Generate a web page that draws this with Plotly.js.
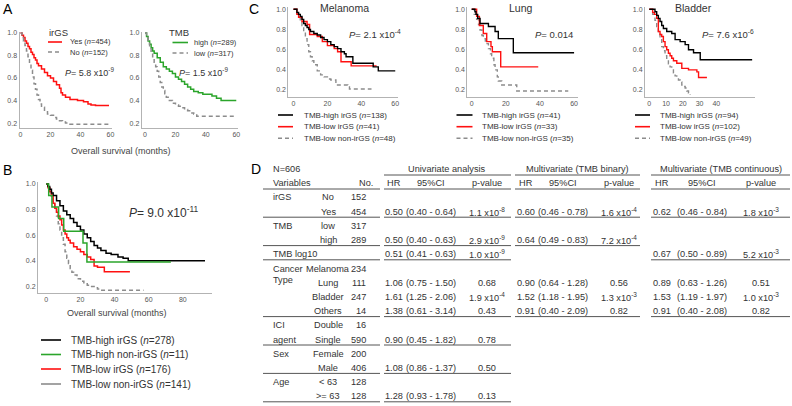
<!DOCTYPE html>
<html>
<head>
<meta charset="utf-8">
<script src="https://cdn.plot.ly/plotly-3.0.1.min.js"></script>
<style>html,body{margin:0;padding:0;background:#fff;}</style>
</head>
<body>
<div id="chart" style="width:792px;height:406px;"></div>
<script>
// ---- Panel A: irGS ----
let irgsYesT = [0, 1, 2, 3, 4, 5, 6, 7, 8, 9, 10, 11, 12, 14, 16, 18, 20, 22, 24, 26, 27, 28, 30, 33, 38, 42, 45, 47, 50, 59];
let irgsYesS = [1, 0.98, 0.96, 0.93, 0.91, 0.88, 0.86, 0.83, 0.81, 0.78, 0.76, 0.73, 0.71, 0.68, 0.65, 0.62, 0.60, 0.57, 0.54, 0.51, 0.47, 0.45, 0.43, 0.41, 0.40, 0.39, 0.37, 0.36, 0.355, 0.355];
let irgsNoT = [0, 1, 2, 3, 4, 5, 6, 7, 8, 9, 10, 11, 12, 13, 14, 16, 18, 20, 22, 24, 26, 28, 30, 33, 59];
let irgsNoS = [1, 0.97, 0.93, 0.89, 0.84, 0.79, 0.73, 0.67, 0.61, 0.55, 0.50, 0.45, 0.41, 0.37, 0.34, 0.30, 0.28, 0.27, 0.25, 0.235, 0.22, 0.21, 0.20, 0.19, 0.19];

// ---- Panel A: TMB ----
let tmbHighT = [0, 1, 2, 3, 4, 5, 6, 8, 10, 12, 14, 16, 18, 20, 22, 24, 26, 28, 30, 32, 35, 38, 44, 47, 50, 60];
let tmbHighS = [1, 0.97, 0.93, 0.90, 0.87, 0.84, 0.82, 0.78, 0.74, 0.70, 0.68, 0.66, 0.64, 0.61, 0.59, 0.57, 0.545, 0.52, 0.50, 0.48, 0.47, 0.455, 0.44, 0.42, 0.40, 0.40];
let tmbLowT = [0, 1, 2, 3, 4, 5, 6, 7, 8, 9, 10, 11, 12, 13, 14, 16, 18, 20, 22, 24, 26, 28, 30, 32, 34, 60];
let tmbLowS = [1, 0.96, 0.92, 0.88, 0.83, 0.78, 0.74, 0.70, 0.66, 0.61, 0.56, 0.52, 0.49, 0.46, 0.43, 0.40, 0.375, 0.36, 0.35, 0.335, 0.32, 0.31, 0.29, 0.28, 0.26, 0.255];

// ---- Panel B: combined groups ----
let bHiIrT = [0, 1, 2, 3, 4, 6, 8, 10, 12, 14, 16, 18, 20, 22, 24, 26, 28, 30, 32, 35, 38, 42, 45, 48, 93];
let bHiIrS = [1, 0.98, 0.96, 0.93, 0.91, 0.87, 0.83, 0.79, 0.76, 0.73, 0.70, 0.67, 0.64, 0.61, 0.58, 0.55, 0.52, 0.50, 0.48, 0.46, 0.45, 0.43, 0.42, 0.40, 0.40];
let bHiNonT = [0, 1.4, 3.3, 7.2, 10.2, 21.5, 23.8, 73];
let bHiNonS = [1, 0.91, 0.82, 0.73, 0.63, 0.54, 0.39, 0.39];
let bLoIrT = [0, 1, 2, 3, 4, 5, 6, 7, 8, 9, 10, 11, 12, 13, 14, 16, 18, 20, 22, 24, 26, 28, 30, 34, 49];
let bLoIrS = [1, 0.97, 0.94, 0.91, 0.85, 0.81, 0.78, 0.75, 0.72, 0.68, 0.64, 0.61, 0.58, 0.56, 0.54, 0.51, 0.49, 0.47, 0.45, 0.43, 0.41, 0.36, 0.35, 0.315, 0.315];
let bLoNonT = [0, 1, 2, 3, 4, 5, 6, 7, 8, 9, 10, 11, 12, 13, 14, 15, 16, 18, 20, 22, 24, 26, 28, 30, 32, 57];
let bLoNonS = [1, 0.97, 0.93, 0.89, 0.85, 0.80, 0.75, 0.69, 0.64, 0.58, 0.53, 0.47, 0.42, 0.38, 0.34, 0.31, 0.29, 0.26, 0.24, 0.22, 0.21, 0.20, 0.19, 0.18, 0.17, 0.17];

// ---- Panel C: per cancer type ----
let melHiT = [0, 2, 3, 4, 5, 6, 7, 8, 9, 10, 12, 14, 16, 18, 20, 22, 24, 26, 28, 30, 31, 35, 47, 50, 60];
let melHiS = [1, 0.97, 0.95, 0.93, 0.90, 0.86, 0.84, 0.82, 0.80, 0.78, 0.76, 0.745, 0.72, 0.70, 0.68, 0.65, 0.63, 0.61, 0.58, 0.56, 0.53, 0.465, 0.43, 0.39, 0.39];
let melLoT = [0, 2, 3, 5, 8, 9.5, 14, 17, 20, 24, 26, 28, 34, 49];
let melLoS = [1, 0.95, 0.92, 0.88, 0.85, 0.75, 0.73, 0.68, 0.64, 0.61, 0.58, 0.48, 0.44, 0.44];
let melNonT = [0, 2, 3, 4, 5, 6, 7, 8, 9, 10, 11, 12, 14, 16, 18, 20, 22, 25, 32, 33, 46];
let melNonS = [1, 0.96, 0.92, 0.88, 0.84, 0.78, 0.71, 0.65, 0.58, 0.53, 0.49, 0.45, 0.39, 0.35, 0.33, 0.31, 0.30, 0.25, 0.23, 0.21, 0.21];

let lungHiT = [0, 1.9, 2.5, 3.5, 4.9, 9.8, 13.7, 15.6, 24.4, 60];
let lungHiS = [1, 0.976, 0.95, 0.91, 0.86, 0.83, 0.78, 0.71, 0.57, 0.57];
let lungLoT = [0, 2.9, 4.5, 6.8, 8.8, 11.3, 12.1, 17, 39];
let lungLoS = [1, 0.93, 0.84, 0.76, 0.68, 0.63, 0.58, 0.43, 0.43];
let lungNonT = [0, 1.5, 2.9, 4, 4.9, 6, 6.8, 8, 9.8, 11, 11.7, 13, 13.7, 15, 15.6, 17.6, 26.4, 56.6];
let lungNonS = [1, 0.95, 0.90, 0.85, 0.795, 0.74, 0.71, 0.66, 0.61, 0.56, 0.515, 0.45, 0.40, 0.33, 0.29, 0.25, 0.19, 0.19];

let bladHiT = [0, 3.4, 4.4, 5.4, 6.4, 7.4, 8.4, 10.4, 13.4, 15.4, 18.4, 21.4, 23.4, 26.4, 30.4, 61.4];
let bladHiS = [1, 0.976, 0.94, 0.91, 0.88, 0.84, 0.81, 0.78, 0.76, 0.70, 0.68, 0.65, 0.60, 0.57, 0.50, 0.50];
let bladLoT = [0, 2, 3, 4.4, 5.4, 6.4, 7.4, 8.4, 9.4, 10.4, 11.4, 12.4, 13.4, 14.4, 16.4, 19.4, 23.4, 28.4, 29.4, 34.4];
let bladLoS = [1, 0.97, 0.95, 0.91, 0.78, 0.75, 0.73, 0.68, 0.63, 0.60, 0.565, 0.54, 0.515, 0.49, 0.465, 0.415, 0.40, 0.38, 0.325, 0.325];
let bladNonT = [0, 2, 3.4, 4.4, 5.4, 6.4, 7.4, 8.4, 9.4, 10.4, 11.4, 12.4, 13.4, 14.4, 15.4, 16.4, 17.4, 18.4, 19.4, 20.4, 21.4, 22.4, 23.4, 24.4];
let bladNonS = [1, 0.95, 0.89, 0.83, 0.76, 0.70, 0.63, 0.59, 0.54, 0.50, 0.46, 0.43, 0.40, 0.37, 0.34, 0.32, 0.30, 0.28, 0.25, 0.235, 0.22, 0.19, 0.17, 0.15];

let survTicks = [0.2, 0.4, 0.6, 0.8, 1.0];
let monthTicks = [0, 20, 40, 60];
let monthTicksB = [0, 20, 40, 60, 80];
let monthTicksBlad = [0, 10, 20, 30, 40];

// ---- Panel D: Cox table ----
let levels = ['No', 'Yes', 'low', 'high', '', 'Melanoma', 'Lung', 'Bladder', 'Others', 'Double', 'Single', 'Female', 'Male', '&lt; 63', '&gt;= 63'];
let counts = ['152', '454', '317', '289', '', '234', '111', '247', '14', '16', '590', '200', '406', '128', '128'];
let uniHR = ['', '0.50', '', '0.50', '0.51', '', '1.06', '1.61', '1.38', '', '0.90', '', '1.08', '', '1.28'];
let uniCI = ['', '(0.40 - 0.64)', '', '(0.40 - 0.63)', '(0.41 - 0.63)', '', '(0.75 - 1.50)', '(1.25 - 2.06)', '(0.61 - 3.14)', '', '(0.45 - 1.82)', '', '(0.86 - 1.37)', '', '(0.93 - 1.78)'];
let uniP = ['', '1.1 x10<sup>-8</sup>', '', '2.9 x10<sup>-9</sup>', '1.0 x10<sup>-9</sup>', '', '0.68', '1.9 x10<sup>-4</sup>', '0.43', '', '0.78', '', '0.50', '', '0.13'];
let binHR = ['', '0.60', '', '0.64', '', '', '0.90', '1.52', '0.91', '', '', '', '', '', ''];
let binCI = ['', '(0.46 - 0.78)', '', '(0.49 - 0.83)', '', '', '(0.64 - 1.28)', '(1.18 - 1.95)', '(0.40 - 2.09)', '', '', '', '', '', ''];
let binP = ['', '1.6 x10<sup>-4</sup>', '', '7.2 x10<sup>-4</sup>', '', '', '0.56', '1.3 x10<sup>-3</sup>', '0.82', '', '', '', '', '', ''];
let contHR = ['', '0.62', '', '', '0.67', '', '0.89', '1.53', '0.91', '', '', '', '', '', ''];
let contCI = ['', '(0.46 - 0.84)', '', '', '(0.50 - 0.89)', '', '(0.63 - 1.26)', '(1.19 - 1.97)', '(0.40 - 2.08)', '', '', '', '', '', ''];
let contP = ['', '1.8 x10<sup>-3</sup>', '', '', '5.2 x10<sup>-3</sup>', '', '0.51', '1.0 x10<sup>-3</sup>', '0.82', '', '', '', '', '', ''];
let varNames = ['irGS', 'TMB', 'TMB log10', 'Cancer', 'Type', 'ICI', 'agent', 'Sex', 'Age'];
let groupTitles = ['Univariate analysis', 'Multivariate (TMB binary)', 'Multivariate (TMB continuous)'];
let colHeads = ['HR', '95%CI', 'p-value'];

// ---- layout helpers ----
const W = 792, H = 406;
const FONT = '"Liberation Sans", Arial, Helvetica, sans-serif';
const fx = px => px / W;
const fy = py => 1 - py / H;
const RED = '#ff1010', GREEN = '#2ba52b', BLACK = '#000000', GREY = '#8c8c8c';
const DASH = '4px,3px';

let data = [];
let annotations = [];
let shapes = [];
let layout = {
    width: W, height: H,
    margin: { l: 0, r: 0, t: 0, b: 0 },
    paper_bgcolor: '#ffffff', plot_bgcolor: '#ffffff',
    showlegend: false,
    font: { family: FONT, color: '#333' },
};

function ann(text, x, y, size, opts) {
    return Object.assign({
        text: text, x: fx(x), y: fy(y), xref: 'paper', yref: 'paper',
        showarrow: false, xanchor: 'left', yanchor: 'middle',
        font: { family: FONT, size: size, color: '#333' },
    }, opts || {});
}

// box = [left, top, right, bottom] in pixels
function kmAxes(n, box, xr, yr, xticks) {
    let sfx = n == 1 ? '' : String(n);
    let common = {
        showline: true, linecolor: '#b3b3b3', linewidth: 1, ticks: '',
        showgrid: false, zeroline: false, fixedrange: true,
        tickfont: { family: FONT, size: 7, color: '#555' },
    };
    layout['xaxis' + sfx] = Object.assign({}, common, {
        domain: [fx(box[0]), fx(box[2])], range: xr, anchor: 'y' + sfx, tickvals: xticks,
    });
    layout['yaxis' + sfx] = Object.assign({}, common, {
        domain: [fy(box[3]), fy(box[1])], range: yr, anchor: 'x' + sfx,
        tickvals: survTicks, tickformat: '.1f',
    });
}

function km(n, t, s, color, dashed, width) {
    let sfx = n == 1 ? '' : String(n);
    data.push({
        x: t, y: s, xaxis: 'x' + sfx, yaxis: 'y' + sfx,
        type: 'scatter', mode: 'lines',
        line: { shape: 'hv', color: color, width: width || 1.5, dash: dashed ? DASH : 'solid' },
        hoverinfo: 'skip',
    });
}

// legend swatches and labels
function legend(items, x0, x1, xt, ys, size) {
    items.forEach((it, i) => {
        shapes.push({
            type: 'line', xref: 'paper', yref: 'paper',
            x0: fx(x0), x1: fx(x1), y0: fy(ys[i]), y1: fy(ys[i]),
            line: { color: it[1], width: 1.6, dash: it[2] ? DASH : 'solid' },
        });
        annotations.push(ann(it[0], xt, ys[i], size));
    });
}

// ---- Panel A ----
kmAxes(1, [19.5, 31.9, 112, 128], [-0.67, 61], [0.156, 1.01], monthTicks);
km(1, irgsYesT, irgsYesS, RED, false);
km(1, irgsNoT, irgsNoS, GREY, true);
kmAxes(2, [141.7, 31.9, 237.8, 128], [-2.2, 61], [0.156, 1.01], monthTicks);
km(2, tmbHighT, tmbHighS, GREEN, false);
km(2, tmbLowT, tmbLowS, GREY, true);

annotations.push(ann('A', 8, 9, 14, { xanchor: 'center', font: { family: FONT, size: 14, color: '#000' } }));
annotations.push(ann('irGS', 46.5, 32, 9.5));
legend([['Yes (<i>n</i>=454)', RED, false], ['No (<i>n</i>=152)', GREY, true]], 48, 62, 67.5, [42, 52], 7.5);
annotations.push(ann('TMB', 166.5, 33, 9.5));
legend([['high (<i>n</i>=289)', GREEN, false], ['low (<i>n</i>=317)', GREY, true]], 172.5, 188, 191.5, [42.5, 53], 7.5);
annotations.push(ann('<i>P</i>= 5.8 x10<sup>-9</sup>', 63, 72, 9));
annotations.push(ann('<i>P</i>= 1.5 x10<sup>-9</sup>', 176.5, 72, 9));
annotations.push(ann('Overall survival (months)', 121, 150.5, 9, { xanchor: 'center', font: { family: FONT, size: 9, color: '#444' } }));

// ---- Panel B ----
kmAxes(3, [38, 181.7, 212, 292.7], [-4.87, 97.1], [0.151, 1.018], monthTicksB);
km(3, bLoNonT, bLoNonS, GREY, true);
km(3, bLoIrT, bLoIrS, RED, false);
km(3, bHiIrT, bHiIrS, BLACK, false);
km(3, bHiNonT, bHiNonS, GREEN, false);

annotations.push(ann('B', 7, 170, 14, { xanchor: 'center', font: { family: FONT, size: 14, color: '#000' } }));
annotations.push(ann('<i>P</i>= 9.0 x10<sup>-11</sup>', 127, 212, 12));
annotations.push(ann('Overall survival (months)', 117, 313, 9, { xanchor: 'center', font: { family: FONT, size: 9, color: '#444' } }));
legend([
    ['TMB-high irGS (<i>n</i>=278)', BLACK, false],
    ['TMB-high non-irGS (<i>n</i>=11)', GREEN, false],
    ['TMB-low irGS (<i>n</i>=176)', RED, false],
    ['TMB-low non-irGS (<i>n</i>=141)', GREY, false],
], 41, 61, 69, [340, 354.5, 369, 384], 10);

// ---- Panel C ----
const cTop = 6.7, cBot = 96.7, cY = [0.134, 1.026];
kmAxes(4, [288.3, cTop, 398.3, cBot], [-3.07, 61.8], cY, monthTicks);
km(4, melNonT, melNonS, GREY, true, 1.4);
km(4, melLoT, melLoS, RED, false, 1.4);
km(4, melHiT, melHiS, BLACK, false, 1.4);
kmAxes(5, [467.3, cTop, 578, cBot], [-2.58, 62.3], cY, monthTicks);
km(5, lungNonT, lungNonS, GREY, true, 1.4);
km(5, lungLoT, lungLoS, RED, false, 1.4);
km(5, lungHiT, lungHiS, BLACK, false, 1.4);
kmAxes(6, [645, cTop, 755, cBot], [-2.57, 63.1], cY, monthTicksBlad);
km(6, bladNonT, bladNonS, GREY, true, 1.4);
km(6, bladLoT, bladLoS, RED, false, 1.4);
km(6, bladHiT, bladHiS, BLACK, false, 1.4);

annotations.push(ann('C', 254, 9, 14, { xanchor: 'center', font: { family: FONT, size: 14, color: '#000' } }));
annotations.push(ann('Melanoma', 344, 8, 10.5, { xanchor: 'center' }));
annotations.push(ann('Lung', 520.7, 8, 10.5, { xanchor: 'center' }));
annotations.push(ann('Bladder', 693.3, 8, 10.5, { xanchor: 'center' }));
annotations.push(ann('<i>P</i>= 2.1 x10<sup>-4</sup>', 346.5, 34, 9.5));
annotations.push(ann('<i>P</i>= 0.014', 533, 34.5, 9.5));
annotations.push(ann('<i>P</i>= 7.6 x10<sup>-6</sup>', 700, 34, 9.5));

const cLegY = [115, 126.7, 138.3];
legend([['TMB-high irGS (<i>n</i>=138)', BLACK, false], ['TMB-low irGS (<i>n</i>=41)', RED, false], ['TMB-low non-irGS (<i>n</i>=48)', GREY, true]], 278, 293, 301.5, cLegY, 8);
legend([['TMB-high irGS (<i>n</i>=41)', BLACK, false], ['TMB-low irGS (<i>n</i>=33)', RED, false], ['TMB-low non-irGS (<i>n</i>=35)', GREY, true]], 456.5, 472.5, 480, cLegY, 8);
legend([['TMB-high irGS (<i>n</i>=94)', BLACK, false], ['TMB-low irGS (<i>n</i>=102)', RED, false], ['TMB-low non-irGS (<i>n</i>=49)', GREY, true]], 635, 650, 657.5, cLegY, 8);

// ---- Panel D: table ----
const TF = 9.2;
const rowY = i => 197.5 + i * 14.2;
const segL = [263, 380], segU = [384, 511], segB = [515, 640], segC = [651, 790];
const groupCols = [[394, 431, 487], [526, 563, 619], [662, 702, 761]];
const groupSegs = [segU, segB, segC];
const groupData = [[uniHR, uniCI, uniP], [binHR, binCI, binP], [contHR, contCI, contP]];

function hline(seg, y) {
    shapes.push({
        type: 'line', xref: 'paper', yref: 'paper',
        x0: fx(seg[0]), x1: fx(seg[1]), y0: fy(y), y1: fy(y),
        line: { color: '#555', width: 1 },
    });
}

annotations.push(ann('D', 256, 169, 14, { xanchor: 'center', font: { family: FONT, size: 14, color: '#000' } }));
annotations.push(ann('N=606', 270.7, 169, TF));
annotations.push(ann('Variables', 270.7, 183, TF));
annotations.push(ann('No.', 375, 183, TF, { xanchor: 'right' }));
groupTitles.forEach((g, k) => {
    let seg = groupSegs[k];
    annotations.push(ann(g, (seg[0] + seg[1]) / 2, 169, TF, { xanchor: 'center' }));
    hline(seg, 175);
    colHeads.forEach((h, c) => annotations.push(ann(h, groupCols[k][c], 183, TF, { xanchor: 'center' })));
});
[segL, segU, segB, segC].forEach(seg => hline(seg, 189));

const varRows = [0, 2, 4, 5, 5.8, 9, 10, 11, 13];
varNames.forEach((v, i) => annotations.push(ann(v, 270.7, rowY(varRows[i]), TF)));

levels.forEach((lv, i) => {
    let y = rowY(i);
    if (lv) annotations.push(ann(lv, 328, y, TF, { xanchor: 'center' }));
    if (counts[i]) annotations.push(ann(counts[i], 368, y, TF, { xanchor: 'right' }));
    groupData.forEach((cols, k) => {
        cols.forEach((arr, c) => {
            if (arr[i]) annotations.push(ann(arr[i], groupCols[k][c], y, TF, { xanchor: 'center' }));
        });
    });
});

// row underlines: [row, segments]
[[1, [segL, segU, segB, segC]], [3, [segL, segU, segB]], [4, [segL, segU, segC]],
 [8, [segL, segU, segB, segC]], [10, [segL, segU]], [12, [segL, segU]], [14, [segL, segU]]]
    .forEach(r => r[1].forEach(seg => hline(seg, rowY(r[0]) + 5.5)));

layout.annotations = annotations;
layout.shapes = shapes;

Plotly.newPlot('chart', data, layout, { staticPlot: true, displayModeBar: false });
</script>
</body>
</html>
